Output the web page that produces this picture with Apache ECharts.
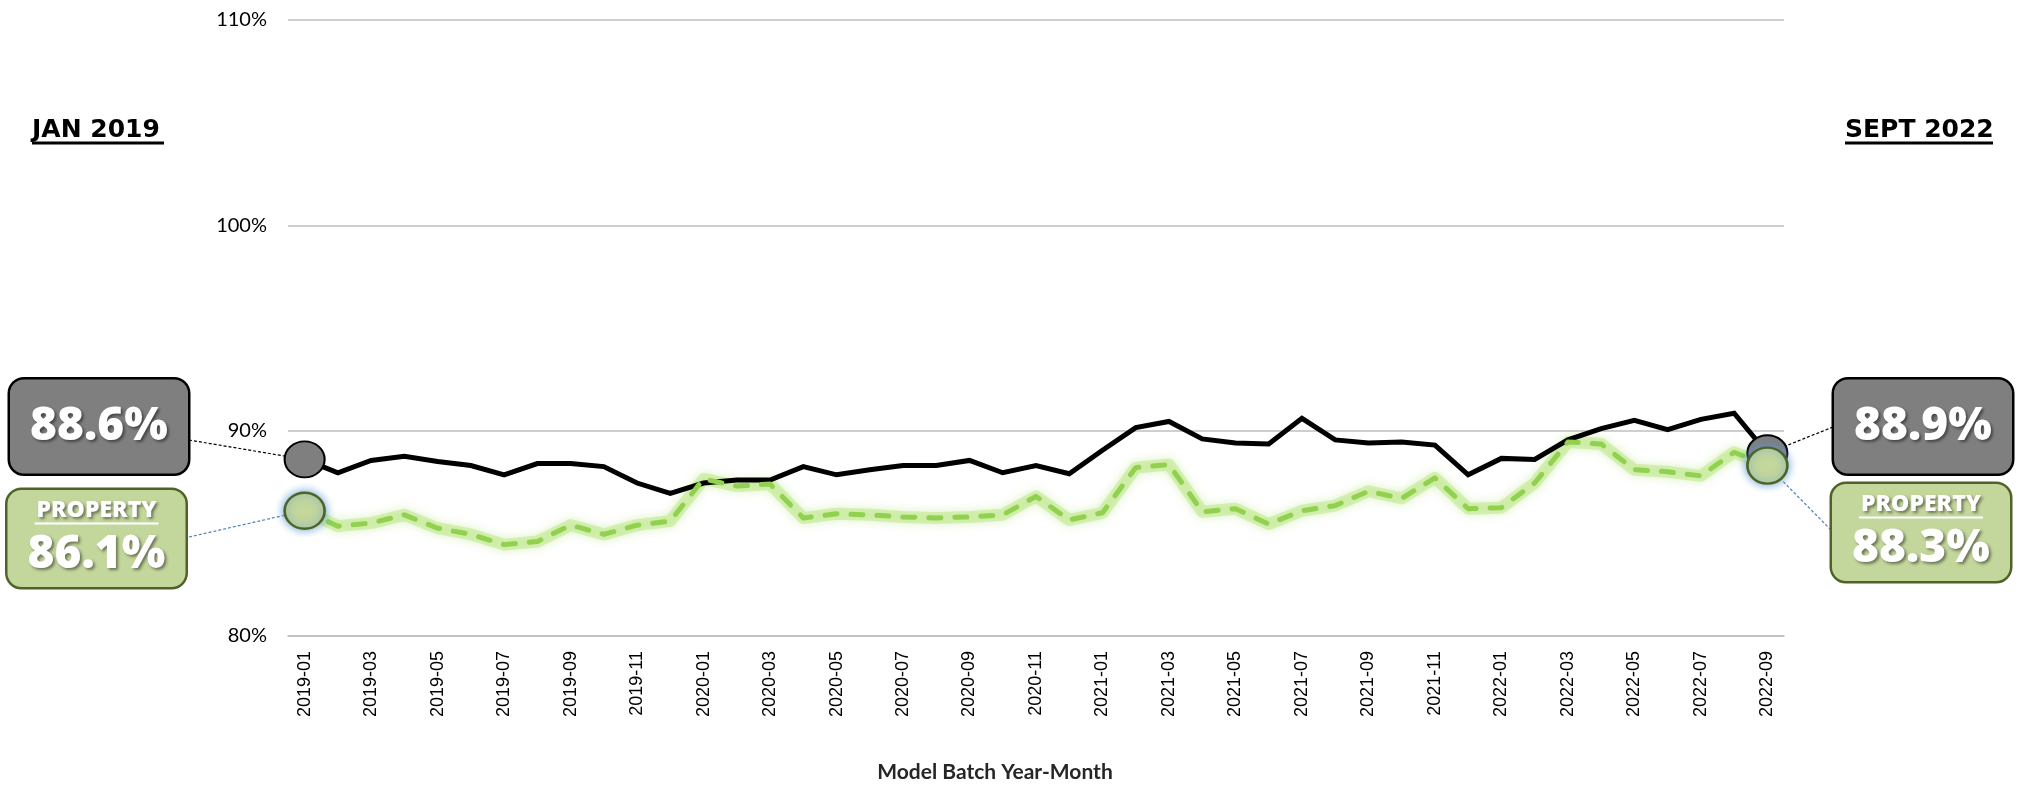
<!DOCTYPE html>
<html>
<head>
<meta charset="utf-8">
<script src="https://cdn.jsdelivr.net/npm/echarts@6/dist/echarts.min.js"></script>
<style>
  html, body { margin: 0; padding: 0; background: #ffffff; }
  #chart { width: 2019px; height: 786px; }
</style>
</head>
<body>
<div id="chart"></div>
<script>
// Monthly model batches
const months = [
  '2019-01','2019-02','2019-03','2019-04','2019-05','2019-06','2019-07','2019-08','2019-09','2019-10','2019-11','2019-12',
  '2020-01','2020-02','2020-03','2020-04','2020-05','2020-06','2020-07','2020-08','2020-09','2020-10','2020-11','2020-12',
  '2021-01','2021-02','2021-03','2021-04','2021-05','2021-06','2021-07','2021-08','2021-09','2021-10','2021-11','2021-12',
  '2022-01','2022-02','2022-03','2022-04','2022-05','2022-06','2022-07','2022-08','2022-09'
];

// Overall rate (%) per batch
const totalRate = [
  88.6, 87.95, 88.55, 88.75, 88.5, 88.3, 87.85, 88.4, 88.4, 88.25, 87.45, 86.95,
  87.45, 87.6, 87.6, 88.25, 87.85, 88.1, 88.3, 88.3, 88.55, 87.95, 88.3, 87.9,
  89.05, 90.15, 90.45, 89.6, 89.4, 89.35, 90.6, 89.55, 89.4, 89.45, 89.3, 87.85,
  88.65, 88.6, 89.55, 90.1, 90.5, 90.05, 90.55, 90.85, 88.9
];

// Property rate (%) per batch
const propertyRate = [
  86.1, 85.35, 85.5, 85.9, 85.25, 84.95, 84.45, 84.6, 85.4, 84.95, 85.4, 85.6,
  87.65, 87.3, 87.4, 85.75, 85.95, 85.9, 85.8, 85.75, 85.8, 85.9, 86.8, 85.65,
  86.0, 88.2, 88.35, 86.05, 86.2, 85.45, 86.1, 86.35, 87.05, 86.7, 87.7, 86.2,
  86.25, 87.45, 89.45, 89.35, 88.1, 88.0, 87.8, 88.95, 88.3
];

// Value axis range (percent)
const yMin = 80, yMax = 110, yStep = 10;

// Period captions
const startCaption = 'JAN 2019';
const endCaption = 'SEPT 2022';
const propertyTag = 'PROPERTY';

// Callout box centres (px) and where their leader lines leave the box
const callouts = {
  total:    { left: [99, 426.5],  right: [1923, 426.5], leadL: [189, 440], leadR: [1833, 427] },
  property: { left: [96.5, 538.5], right: [1921, 532.5], leadL: [189, 537], leadR: [1831, 530] }
};

const boxFont = "'Open Sans', 'DejaVu Sans', sans-serif";
const glowText = {
  textShadowColor: 'rgba(0,0,0,0.45)', textShadowBlur: 3,
  textShadowOffsetX: 2, textShadowOffsetY: 2
};

const totalLabel = {
  show: true,
  formatter: p => '{v|' + p.value.toFixed(1) + '%}',
  backgroundColor: '#7f7f7f', borderColor: '#000000', borderWidth: 2.5, borderRadius: 14,
  width: 178, padding: 0, align: 'center', verticalAlign: 'middle',
  rich: {
    v: Object.assign({ fontFamily: boxFont, fontSize: 46, fontWeight: 800, color: '#ffffff', lineHeight: 94 }, glowText)
  }
};

const propertyLabel = {
  show: true,
  formatter: p => '{h|' + propertyTag + '}\n{u|}\n{v|' + p.value.toFixed(1) + '%}',
  backgroundColor: '#c3d69b', borderColor: '#4f6228', borderWidth: 2.5, borderRadius: 14,
  width: 178, padding: [8, 0, 3, 0], align: 'center', verticalAlign: 'middle',
  rich: {
    h: Object.assign({ fontFamily: boxFont, fontSize: 23, fontWeight: 800, color: '#ffffff', lineHeight: 24 }, glowText),
    u: { width: 124, height: 2, lineHeight: 3, backgroundColor: '#ffffff' },
    v: Object.assign({ fontFamily: boxFont, fontSize: 46, fontWeight: 800, color: '#ffffff', lineHeight: 59 }, glowText)
  }
};

// Only the first and last batch get a marker and a callout
function endpointData(values, itemStyle, label) {
  return values.map((v, i) => (i === 0 || i === values.length - 1)
    ? { value: v, symbol: 'circle', symbolSize: [40, 36], itemStyle: itemStyle, label: label }
    : v);
}

function calloutLayout(pos) {
  return params => {
    const c = params.dataIndex === 0 ? pos.left : pos.right;
    return { x: c[0], y: c[1], align: 'center', verticalAlign: 'middle' };
  };
}

const chart = echarts.init(document.getElementById('chart'), null, { renderer: 'canvas' });

chart.setOption({
  animation: false,
  backgroundColor: '#ffffff',
  title: [
    {
      text: '{t|' + startCaption + '}\n{u|}', left: 32, top: 119, padding: 0,
      textStyle: { rich: {
        t: { fontFamily: 'DejaVu Sans', fontWeight: 'bold', fontSize: 25, lineHeight: 22, color: '#000' },
        u: { width: 132, height: 3, lineHeight: 4, backgroundColor: '#000' }
      } }
    },
    {
      text: '{t|' + endCaption + '}\n{u|}', left: 1845, top: 119, padding: 0,
      textStyle: { rich: {
        t: { fontFamily: 'DejaVu Sans', fontWeight: 'bold', fontSize: 25, lineHeight: 22, color: '#000' },
        u: { width: 148, height: 3, lineHeight: 4, backgroundColor: '#000' }
      } }
    }
  ],
  grid: { left: 288, right: 235, top: 20, bottom: 150, containLabel: false, outerBoundsMode: 'none' },
  xAxis: {
    type: 'category',
    data: months,
    boundaryGap: true,
    axisLine: { lineStyle: { color: '#bfbfbf', width: 1.5 } },
    axisTick: { show: false },
    axisLabel: {
      interval: 1, rotate: 90, margin: 15,
      fontFamily: "'Liberation Sans', Arial, sans-serif", fontSize: 18, color: '#000'
    },
    name: 'Model Batch Year-Month',
    nameLocation: 'middle',
    nameGap: 126,
    nameTextStyle: {
      fontFamily: 'Lato, sans-serif', fontWeight: 'bold', fontSize: 21, color: '#262626',
      padding: [0, 82, 0, 0]
    }
  },
  yAxis: {
    type: 'value',
    min: yMin, max: yMax, interval: yStep,
    axisLine: { show: false },
    axisTick: { show: false },
    axisLabel: { formatter: '{value}%', fontFamily: 'Lato, sans-serif', fontSize: 20, color: '#000', margin: 21 },
    splitLine: { lineStyle: { color: '#bfbfbf', width: 1.5 } }
  },
  series: [
    {
      // soft halo behind the property line
      name: 'Property halo',
      type: 'line',
      silent: true,
      data: propertyRate,
      symbol: 'none',
      lineStyle: {
        color: 'rgba(180,228,120,0.45)', width: 12, cap: 'round', join: 'round',
        shadowColor: 'rgba(170,222,105,0.9)', shadowBlur: 10
      },
      emphasis: { disabled: true },
      z: 1
    },
    {
      name: 'Total',
      type: 'line',
      silent: true,
      data: endpointData(totalRate, { color: '#7f7f7f', borderColor: '#000000', borderWidth: 2 }, totalLabel),
      symbol: 'none',
      showSymbol: true,
      showAllSymbol: true,
      lineStyle: { color: '#000000', width: 5, join: 'miter' },
      labelLayout: calloutLayout(callouts.total),
      emphasis: { disabled: true },
      z: 3
    },
    {
      name: 'Property',
      type: 'line',
      silent: true,
      data: endpointData(propertyRate, {
        color: '#c3d69b', borderColor: '#4f6228', borderWidth: 2.5,
        shadowColor: 'rgba(91,155,213,0.9)', shadowBlur: 8
      }, propertyLabel),
      symbol: 'none',
      showSymbol: true,
      showAllSymbol: true,
      lineStyle: { color: '#92d050', width: 5, type: [12, 14], cap: 'round', join: 'round' },
      labelLayout: calloutLayout(callouts.property),
      emphasis: { disabled: true },
      z: 4
    }
  ]
});

// Dashed leader lines from each callout box to its marker
const last = months.length - 1;
const leaders = [
  { from: callouts.total.leadL,    at: chart.convertToPixel({ seriesIndex: 1 }, [0, totalRate[0]]),       color: '#000000' },
  { from: callouts.total.leadR,    at: chart.convertToPixel({ seriesIndex: 1 }, [last, totalRate[last]]), color: '#000000' },
  { from: callouts.property.leadL, at: chart.convertToPixel({ seriesIndex: 2 }, [0, propertyRate[0]]),    color: '#4f81bd' },
  { from: callouts.property.leadR, at: chart.convertToPixel({ seriesIndex: 2 }, [last, propertyRate[last]]), color: '#4f81bd' }
];

chart.setOption({
  graphic: leaders.map(l => ({
    type: 'line',
    silent: true,
    z: 2,
    shape: { x1: l.from[0], y1: l.from[1], x2: l.at[0], y2: l.at[1] },
    style: { stroke: l.color, lineWidth: 1.2, lineDash: [3, 2] }
  }))
});
</script>
</body>
</html>
